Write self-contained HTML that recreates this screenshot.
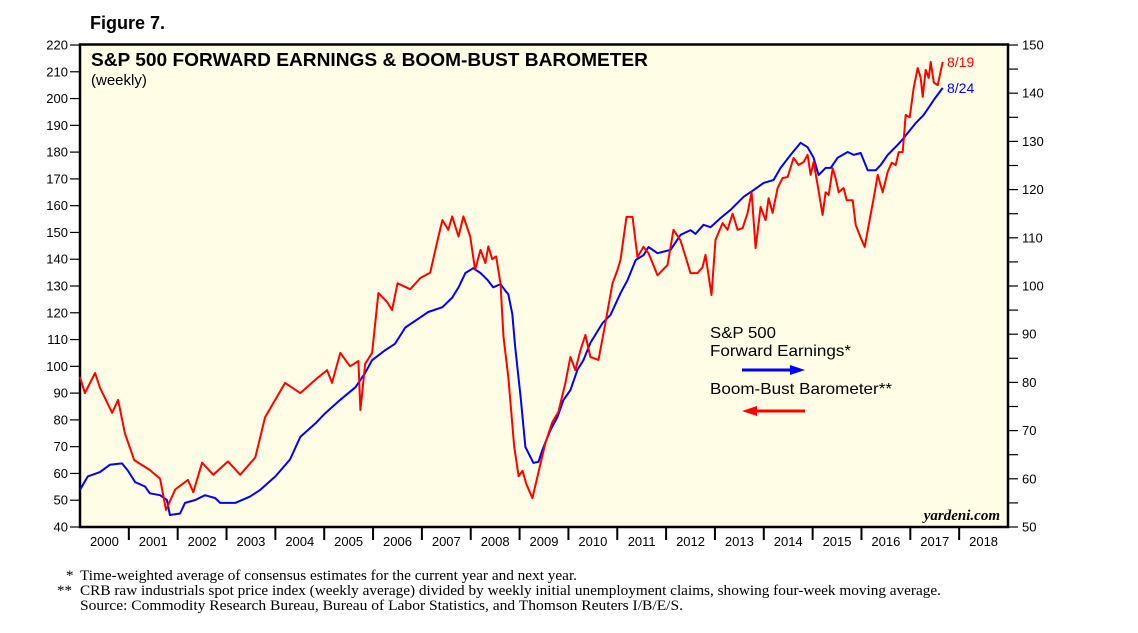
<!DOCTYPE html>
<html><head><meta charset="utf-8"><style>
body{margin:0;background:#fff;width:1138px;height:633px;overflow:hidden;font-family:"Liberation Sans",sans-serif}
svg{display:block}
</style></head><body>
<svg id="chart" width="1138" height="633" viewBox="0 0 1138 633" xmlns="http://www.w3.org/2000/svg">
<text x="90" y="29" font-size="18" font-weight="bold" textLength="75" lengthAdjust="spacingAndGlyphs">Figure 7.</text>
<rect x="80" y="44.5" width="928" height="482.5" fill="#fffde6" stroke="#000" stroke-width="2.5"/>
<text x="91" y="66" font-size="18.5" font-weight="bold" textLength="557" lengthAdjust="spacingAndGlyphs">S&amp;P 500 FORWARD EARNINGS &amp; BOOM-BUST BAROMETER</text>
<text x="91" y="85" font-size="15">(weekly)</text>
<g id="axes"></g>
<g id="series"></g>
<text x="710" y="338" font-size="16" textLength="66" lengthAdjust="spacingAndGlyphs">S&amp;P 500</text>
<text x="710" y="356" font-size="16" textLength="141" lengthAdjust="spacingAndGlyphs">Forward Earnings*</text>
<line x1="742" y1="370" x2="792" y2="370" stroke="#0000ff" stroke-width="3"/>
<polygon points="790,365 805,370 790,375" fill="#0000ff"/>
<text x="710" y="394" font-size="16" textLength="182" lengthAdjust="spacingAndGlyphs">Boom-Bust Barometer**</text>
<line x1="755" y1="411" x2="805" y2="411" stroke="#ff0000" stroke-width="3"/>
<polygon points="757,406 742,411 757,416" fill="#ff0000"/>
<text x="947" y="67" font-size="14" fill="#ff0000">8/19</text>
<text x="947" y="93" font-size="14" fill="#0000ff">8/24</text>
<text x="1000" y="520" font-size="15" font-style="italic" font-weight="bold" text-anchor="end" font-family="Liberation Serif, serif">yardeni.com</text>
<g font-family="Liberation Serif, serif" font-size="15">
<text x="66" y="580">*</text>
<text x="80" y="580" textLength="497" lengthAdjust="spacingAndGlyphs">Time-weighted average of consensus estimates for the current year and next year.</text>
<text x="57" y="595">**</text>
<text x="80" y="595" textLength="861" lengthAdjust="spacingAndGlyphs">CRB raw industrials spot price index (weekly average) divided by weekly initial unemployment claims, showing four-week moving average.</text>
<text x="80" y="610" textLength="603" lengthAdjust="spacingAndGlyphs">Source: Commodity Research Bureau, Bureau of Labor Statistics, and Thomson Reuters I/B/E/S.</text>
</g>
</svg>
<script>
const yearLabels=[2000,2001,2002,2003,2004,2005,2006,2007,2008,2009,2010,2011,2012,2013,2014,2015,2016,2017,2018];
const leftTicks=[40,50,60,70,80,90,100,110,120,130,140,150,160,170,180,190,200,210,220];
const rightTicks=[50,60,70,80,90,100,110,120,130,140,150];
const redDates=[2000.00,2000.10,2000.31,2000.41,2000.66,2000.78,2000.92,2001.11,2001.43,2001.64,2001.76,2001.95,2002.21,2002.32,2002.50,2002.73,2003.03,2003.28,2003.59,2003.79,2004.20,2004.51,2004.82,2005.06,2005.16,2005.33,2005.53,2005.70,2005.74,2005.84,2005.98,2006.11,2006.29,2006.39,2006.50,2006.76,2006.97,2007.17,2007.32,2007.42,2007.54,2007.62,2007.75,2007.85,2007.99,2008.09,2008.20,2008.30,2008.36,2008.44,2008.52,2008.61,2008.67,2008.77,2008.89,2008.98,2009.06,2009.14,2009.262,2009.365,2009.529,2009.672,2009.795,2009.939,2010.041,2010.143,2010.246,2010.348,2010.451,2010.615,2010.758,2010.902,2011.004,2011.066,2011.189,2011.311,2011.414,2011.537,2011.639,2011.824,2012.029,2012.152,2012.295,2012.398,2012.5,2012.643,2012.746,2012.807,2012.93,2013.012,2013.156,2013.258,2013.361,2013.463,2013.566,2013.668,2013.75,2013.832,2013.934,2014.037,2014.098,2014.18,2014.283,2014.385,2014.488,2014.611,2014.713,2014.816,2014.898,2014.959,2015.02,2015.102,2015.205,2015.266,2015.328,2015.41,2015.471,2015.533,2015.635,2015.697,2015.82,2015.881,2015.984,2016.066,2016.148,2016.25,2016.332,2016.434,2016.537,2016.619,2016.701,2016.762,2016.844,2016.906,2016.988,2017.07,2017.152,2017.213,2017.254,2017.316,2017.377,2017.418,2017.48,2017.561,2017.664];
const redValues=[96,90,97.5,92,82.6,87.5,75,65,61.3,58,46.4,54,57.6,53,64,59.5,64.5,59.5,66,81,93.8,90,95,98.6,93.8,105,100,102,83.7,101,105,127.4,124,121,131,128.8,133,135,147,154.6,151,156,148.5,156,148.5,136,143.5,138.6,144.8,140,141,131,111,96,70,59,61,56,50.8,58.7,71.4,79.2,83,93.8,103.5,98.6,106,111.7,103.5,102.4,116.2,131,136,139.7,155.8,155.8,140.8,144.6,142.3,134,137.8,151,147,141,134.8,134.8,137,141.6,126.6,147.2,153.5,151,157,151,151.6,157.3,165,144.2,159.5,154.6,162.8,157.3,166.6,170.3,170.7,177.8,175.2,176.3,179,171.5,176.3,167.7,156.5,165,164,174,170.3,165,166.6,162,162,152.8,148,144.6,152.8,162.8,171.5,165,172.6,176,175.2,180,180,193.9,193,204,211.4,207.7,200.6,210.7,207.7,213.7,206,205,213.7];
const blueDates=[2000.00,2000.16,2000.41,2000.61,2000.86,2000.98,2001.13,2001.33,2001.43,2001.64,2001.78,2001.84,2002.05,2002.15,2002.36,2002.56,2002.77,2002.87,2003.18,2003.48,2003.69,2004.00,2004.30,2004.51,2004.82,2005.02,2005.33,2005.64,2005.84,2005.98,2006.25,2006.45,2006.66,2006.97,2007.13,2007.42,2007.62,2007.75,2007.89,2008.05,2008.20,2008.34,2008.46,2008.61,2008.71,2008.77,2008.85,2008.91,2009.02,2009.12,2009.283,2009.385,2009.467,2009.631,2009.775,2009.898,2010.041,2010.184,2010.307,2010.451,2010.697,2010.861,2011.066,2011.209,2011.377,2011.537,2011.639,2011.824,2012.09,2012.295,2012.5,2012.602,2012.766,2012.91,2013.115,2013.32,2013.586,2013.791,2013.996,2014.201,2014.344,2014.549,2014.754,2014.898,2015.02,2015.123,2015.266,2015.369,2015.512,2015.717,2015.84,2015.984,2016.127,2016.291,2016.393,2016.537,2016.742,2016.865,2017.111,2017.275,2017.48,2017.664];
const blueValues=[57.7,60.5,61.4,62.9,63.2,61.7,59.3,58.4,57,56.6,55.6,52.5,52.8,55,55.6,56.6,56,55,55,56.3,57.7,60.5,64,68.7,71.5,73.6,76.4,79,82,84.6,86.7,88,91.4,93.5,94.6,95.6,97.6,99.7,102.7,103.7,102.7,101.3,99.7,100.4,99,98.3,94.2,87.3,77,66.6,63.3,63.5,66,70.1,72.8,76.3,78.4,82.6,84.6,88.2,92.3,94,98.5,101.2,105.4,106.4,108.1,106.8,107.5,110.6,111.6,110.8,112.7,112.2,114.1,115.8,118.5,119.9,121.4,122,124.5,127.2,129.7,128.8,126.6,123,124.5,124.5,126.6,127.8,127.2,127.6,124,124,125.1,127.2,129.3,130.7,133.8,135.5,138.6,141.1];

const NS='http://www.w3.org/2000/svg';
const X0=80,X1=1008,YT=45,YB=527;
const xScale=t=>X0+(t-2000)/19*(X1-X0);
const yLeft=v=>YB-(v-40)/180*(YB-YT);
const yRight=v=>YB-(v-50)/100*(YB-YT);
function mk(tag,attrs,parent){const e=document.createElementNS(NS,tag);for(const k in attrs)e.setAttribute(k,attrs[k]);parent.appendChild(e);return e;}
const axes=document.getElementById('axes');
leftTicks.forEach(v=>{
  const y=yLeft(v);
  const l=mk('line',{x1:70,x2:80,y1:y,y2:y,stroke:'#000','stroke-width':1.2},axes);
  
  
  const t=mk('text',{x:68,y:y+4.5,'font-size':13,'text-anchor':'end'},axes);
  t.textContent=v;
  
  
});
for(let v=50;v<=150;v+=5){
  const y=yRight(v);
  const l=mk('line',{x1:1008,x2:1018,y1:y,y2:y,stroke:'#000','stroke-width':1.2},axes);
  
  
}
rightTicks.forEach(v=>{
  const y=yRight(v);
  const t=mk('text',{x:1022,y:y+4.5,'font-size':13},axes);
  t.textContent=v;
  
  
});
yearLabels.forEach((yr,i)=>{
  const xs=xScale(yr);
  if(i>0){
    const l=mk('line',{x1:xs,x2:xs,y1:527,y2:540,stroke:'#000','stroke-width':2},axes);
    
    
  }
  const t=mk('text',{x:xScale(yr+0.5),y:546,'font-size':13,'text-anchor':'middle'},axes);
  t.textContent=yr;
  
  
});
const series=document.getElementById('series');
const bp=blueDates.map((d,i)=>xScale(d).toFixed(1)+','+yRight(blueValues[i]).toFixed(1)).join(' ');
const bl=mk('polyline',{points:bp,fill:'none',stroke:'#0000ff','stroke-width':2,'stroke-linejoin':'round'},series);


const rp=redDates.map((d,i)=>xScale(d).toFixed(1)+','+yLeft(redValues[i]).toFixed(1)).join(' ');
const rl=mk('polyline',{points:rp,fill:'none',stroke:'#ff0000','stroke-width':2,'stroke-linejoin':'round'},series);


</script>
</body></html>
